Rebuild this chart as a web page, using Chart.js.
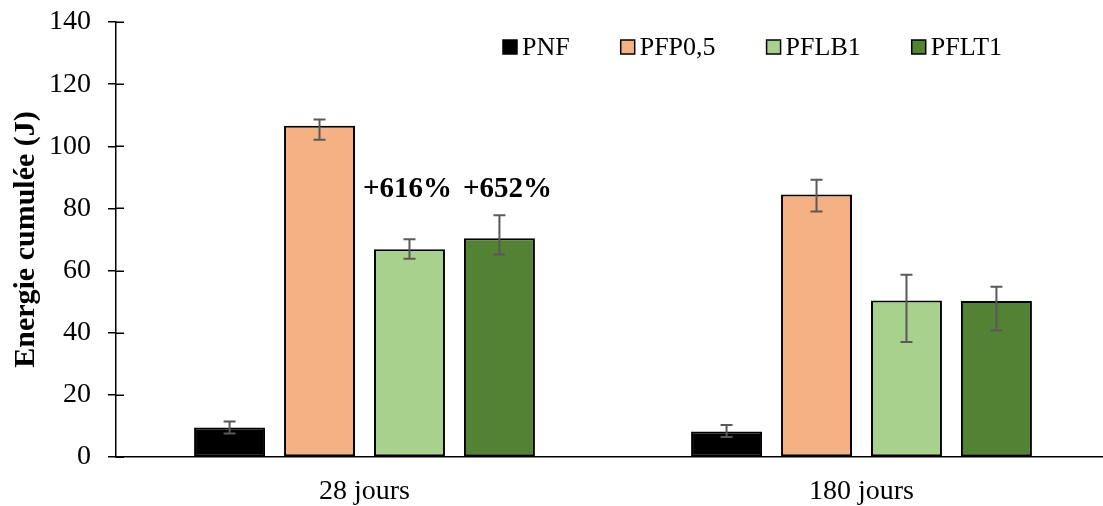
<!DOCTYPE html>
<html><head><meta charset="utf-8">
<script src="https://cdn.jsdelivr.net/npm/chart.js@4.4.1/dist/chart.umd.min.js"></script>
<style>html,body{margin:0;padding:0;overflow:hidden;background:#fff;} canvas{display:block}</style>
</head><body>
<canvas id="c" width="1110" height="506" style="width:1110px;height:506px"></canvas>
<script>
// ---- data ----
const categories = ['28 jours', '180 jours'];
const seriesNames = ['PNF', 'PFP0,5', 'PFLB1', 'PFLT1'];
const pnf  = [9.5, 8.2];
const pfp  = [106.6, 84.5];
const pflb = [66.9, 50.4];
const pflt = [70.4, 50.2];
const pnfErrPlus  = [1.9, 2.1],  pnfErrMinus  = [1.9, 1.8];
const pfpErrPlus  = [2.0, 4.7],  pfpErrMinus  = [4.5, 5.5];
const pflbErrPlus = [3.2, 8.3],  pflbErrMinus = [3.1, 13.4];
const pfltErrPlus = [7.4, 4.6],  pfltErrMinus = [5.2, 9.5];
const yTickValues = [0, 20, 40, 60, 80, 100, 120, 140];
const gainLabels = ['+616%', '+652%'];   // shown above PFLB1 / PFLT1 at 28 jours
const gainLabelValue = 86.2;

// ---- styles ----
const FONT = "'Liberation Serif', 'Times New Roman', serif";
const colors = ['#000000', '#F4B183', '#A9D18E', '#548235'];
const values = [pnf, pfp, pflb, pflt];
const errPlus = [pnfErrPlus, pfpErrPlus, pflbErrPlus, pfltErrPlus];
const errMinus = [pnfErrMinus, pfpErrMinus, pflbErrMinus, pfltErrMinus];

const datasets = seriesNames.map((n, i) => ({
  label: n,
  data: values[i],
  backgroundColor: colors[i],
  borderColor: '#000000',
  borderWidth: 2,
  borderSkipped: false,
  errPlus: errPlus[i],
  errMinus: errMinus[i]
}));

const errorBars = {
  id: 'errorBars',
  afterDatasetsDraw(chart) {
    const ctx = chart.ctx, ys = chart.scales.y;
    ctx.save();
    ctx.strokeStyle = '#595959';
    ctx.lineWidth = 2;
    chart.data.datasets.forEach((ds, i) => {
      const meta = chart.getDatasetMeta(i);
      meta.data.forEach((el, j) => {
        const v = ds.data[j];
        const yt = ys.getPixelForValue(v + ds.errPlus[j]);
        const yb = ys.getPixelForValue(v - ds.errMinus[j]);
        const x = el.x, w = 6;
        ctx.beginPath();
        ctx.moveTo(x, yt); ctx.lineTo(x, yb);
        ctx.moveTo(x - w, yt); ctx.lineTo(x + w, yt);
        ctx.moveTo(x - w, yb); ctx.lineTo(x + w, yb);
        ctx.stroke();
      });
    });
    ctx.restore();
  }
};

const gainText = {
  id: 'gainText',
  afterDatasetsDraw(chart) {
    const ctx = chart.ctx, ys = chart.scales.y;
    ctx.save();
    ctx.font = "bold 29px " + FONT;
    ctx.fillStyle = '#000';
    ctx.textAlign = 'center';
    ctx.textBaseline = 'middle';
    const offs = [-2, 8];
    gainLabels.forEach((t, k) => {
      const el = chart.getDatasetMeta(2 + k).data[0];
      ctx.fillText(t, el.x + offs[k], ys.getPixelForValue(gainLabelValue));
    });
    ctx.restore();
  }
};

const innerTicks = {
  id: 'innerTicks',
  afterDraw(chart) {
    const ctx = chart.ctx, ys = chart.scales.y;
    const x0 = chart.chartArea.left;
    ctx.save();
    ctx.strokeStyle = '#000';
    ctx.lineWidth = 1.5;
    ys.ticks.forEach(t => {
      const y = Math.round(ys.getPixelForValue(t.value)) + 0.25;
      ctx.beginPath(); ctx.moveTo(x0, y); ctx.lineTo(x0 + 8, y); ctx.stroke();
    });
    ctx.restore();
  }
};

const customLegend = {
  id: 'customLegend',
  afterDraw(chart) {
    const ctx = chart.ctx;
    ctx.save();
    ctx.font = "26px " + FONT;
    ctx.textBaseline = 'middle';
    ctx.textAlign = 'left';
    let x = 503;
    const yc = 47, box = 14;
    chart.data.datasets.forEach(ds => {
      ctx.fillStyle = ds.backgroundColor;
      ctx.fillRect(x, yc - box / 2, box, box);
      ctx.strokeStyle = '#000'; ctx.lineWidth = 1.5;
      ctx.strokeRect(x, yc - box / 2, box, box);
      ctx.fillStyle = '#000';
      ctx.fillText(ds.label, x + box + 5, yc + 1);
      x += box + 5 + ctx.measureText(ds.label).width + 51;
    });
    ctx.restore();
  }
};

new Chart(document.getElementById('c'), {
  type: 'bar',
  data: { labels: categories, datasets },
  options: {
    responsive: false,
    animation: false,
    layout: { padding: { top: 0, left: 0, right: 0, bottom: 0 } },
    datasets: { bar: { categoryPercentage: 0.724, barPercentage: 0.789 } },
    plugins: { legend: { display: false }, tooltip: { enabled: false } },
    scales: {
      x: {
        grid: { display: true, drawOnChartArea: false, drawTicks: false },
        border: { color: '#000', width: 1.5 },
        ticks: { color: '#000', font: { family: FONT, size: 28 }, padding: 18 },
        afterFit(s) { s.height = 49; }
      },
      y: {
        min: 0, max: 140,
        afterBuildTicks(s) { s.ticks = yTickValues.map(v => ({ value: v })); },
        grid: { display: true, drawOnChartArea: false, drawTicks: true, tickLength: 8, color: '#000', lineWidth: 1.5 },
        border: { color: '#000', width: 1.5 },
        ticks: { color: '#000', font: { family: FONT, size: 28, lineHeight: 0.36 }, padding: 17 },
        title: { display: true, text: 'Energie cumulée (J)', color: '#000',
                 font: { family: FONT, size: 30, weight: 'bold' }, padding: { top: 8, bottom: 0 } },
        afterFit(s) { s.width = 116; }
      }
    }
  },
  plugins: [errorBars, gainText, innerTicks, customLegend]
});
</script>
</body></html>
